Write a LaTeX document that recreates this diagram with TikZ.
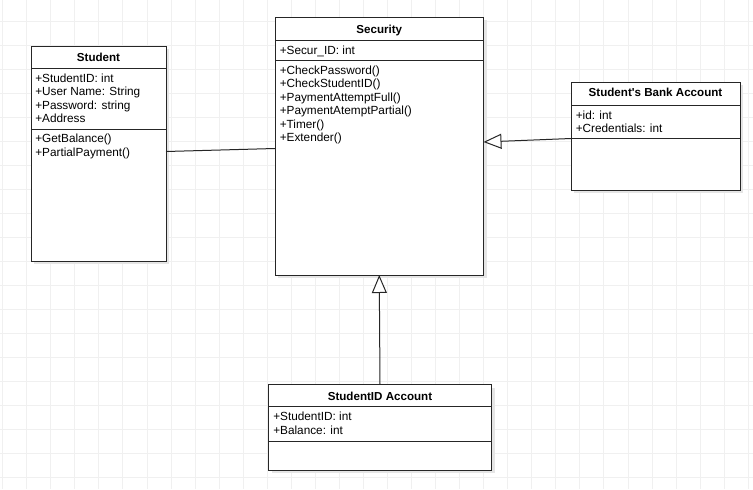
\documentclass[tikz,border=0pt]{standalone}
\usepackage{fontspec}
\setmainfont{Liberation Sans}
\usetikzlibrary{arrows.meta,calc,shadows}

\tikzset{
  gridline/.style={draw=black!6, line width=0.75pt},
  umlbox/.style={rectangle, draw=black!85, line width=0.75pt, fill=white,
    anchor=north west, inner sep=0pt, outer sep=0pt,
    drop shadow={shadow xshift=2.25pt, shadow yshift=-2.25pt, fill=black!10, opacity=1}},
  umltitle/.style={anchor=base, inner sep=0pt, font=\bfseries\fontsize{8.7}{10.4}\selectfont},
  member/.style={anchor=base west, inner sep=0pt, font=\fontsize{8.85}{10.6}\selectfont},
  sepline/.style={draw=black!85, line width=0.75pt},
  assoc/.style={draw=black!85, line width=0.75pt},
  inherit/.style={draw=black!85, line width=0.75pt,
    -{Triangle[open, fill=white, length=13.5pt, width=11.25pt]}},
}

\begin{document}
\begin{tikzpicture}[x=0.75pt, y=-0.75pt]
\useasboundingbox (0,0) rectangle (753,489);
\fill[white] (0,0) rectangle (753,489);

% background grid
\foreach \gx in {0,...,31}
  \draw[gridline] ({2.7+24.05*\gx},0) -- ({2.7+24.05*\gx},489);
\foreach \gy in {0,...,19}
  \draw[gridline] (0,{21+24.05*\gy}) -- (753,{21+24.05*\gy});

% ---------- Student ----------
\node[umlbox, minimum width={135*0.75pt}, minimum height={215*0.75pt}] (student) at (31,46) {};
\node[umltitle] (student-title) at ($(student.north)+(0,15.3)$) {Student};
\draw[sepline] ($(student.north west)+(0,22)$) -- ($(student.north east)+(0,22)$);
\draw[sepline] ($(student.north west)+(0,83)$) -- ($(student.north east)+(0,83)$);
\foreach \t [count=\i] in {{+StudentID: int},{+User Name: String},{+Password: string},{+Address}}
  \node[member] (student-a\i) at ($(student.north west)+(4,{36+(\i-1)*13.5})$) {\t};
\foreach \t [count=\i] in {{+GetBalance()},{+PartialPayment()}}
  \node[member] (student-m\i) at ($(student.north west)+(4,{96.5+(\i-1)*13.5})$) {\t};

% ---------- Security ----------
\node[umlbox, minimum width={208.5*0.75pt}, minimum height={258*0.75pt}] (security) at (275,17) {};
\node[umltitle] (security-title) at ($(security.north)+(0,16.3)$) {Security};
\draw[sepline] ($(security.north west)+(0,23.5)$) -- ($(security.north east)+(0,23.5)$);
\draw[sepline] ($(security.north west)+(0,43.5)$) -- ($(security.north east)+(0,43.5)$);
\node[member] (security-a1) at ($(security.north west)+(4.5,37.5)$) {+Secur\_ID: int};
\foreach \t [count=\i] in {{+CheckPassword()},{+CheckStudentID()},{+PaymentAttemptFull()},{+PaymentAtemptPartial()},{+Timer()},{+Extender()}}
  \node[member] (security-m\i) at ($(security.north west)+(4.5,{57.5+(\i-1)*13.4})$) {\t};

% ---------- Student's Bank Account ----------
\node[umlbox, minimum width={169*0.75pt}, minimum height={108*0.75pt}] (bank) at (571,82) {};
\node[umltitle] (bank-title) at ($(bank.north)+(0,14.8)$) {Student\textquotesingle s Bank Account};
\draw[sepline] ($(bank.north west)+(0,23)$) -- ($(bank.north east)+(0,23)$);
\draw[sepline] ($(bank.north west)+(0,56.5)$) -- ($(bank.north east)+(0,56.5)$);
\foreach \t [count=\i] in {{+id: int},{+Credentials: int}}
  \node[member] (bank-a\i) at ($(bank.north west)+(4.5,{37+(\i-1)*13.5})$) {\t};

% ---------- StudentID Account ----------
\node[umlbox, minimum width={223*0.75pt}, minimum height={85.5*0.75pt}] (sid) at (268.5,384.5) {};
\node[umltitle] (sid-title) at ($(sid.north)+(0,15.8)$) {StudentID Account};
\draw[sepline] ($(sid.north west)+(0,22)$) -- ($(sid.north east)+(0,22)$);
\draw[sepline] ($(sid.north west)+(0,56.5)$) -- ($(sid.north east)+(0,56.5)$);
\foreach \t [count=\i] in {{+StudentID: int},{+Balance: int}}
  \node[member] (sid-a\i) at ($(sid.north west)+(4.5,{36+(\i-1)*13.5})$) {\t};

% ---------- relations ----------
\draw[assoc] ($(student.east)+(0,-2)$) -- ($(security.west)+(0,2.5)$);
\draw[inherit] ($(bank.west)+(0,2.5)$) -- ($(security.east)+(0,-4)$);
\draw[inherit] (sid.north) -- (security.south);
\end{tikzpicture}
\end{document}
